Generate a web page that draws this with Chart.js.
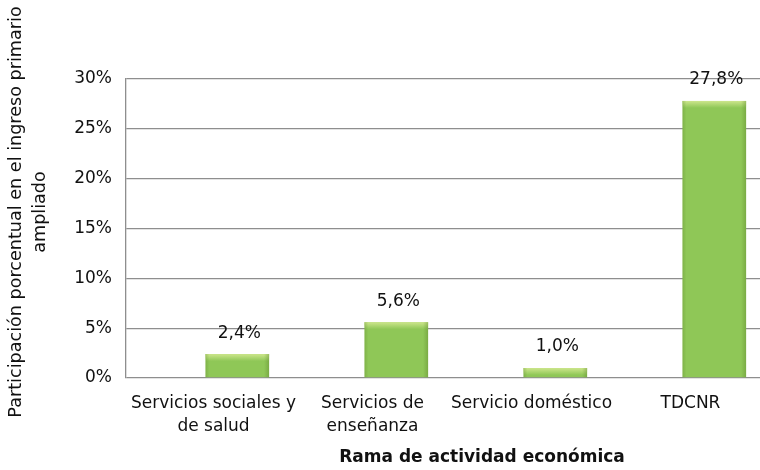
<!DOCTYPE html>
<html>
<head>
<meta charset="utf-8">
<script src="https://cdn.jsdelivr.net/npm/chart.js@4"></script>
<style>
  body { margin: 0; background: #fff; }
  #wrap { width: 760px; height: 470px; overflow: hidden; position: relative; }
  #wrap div { position: absolute; left: 0; top: 0; width: 772px; height: 470px; }
</style>
</head>
<body>
<div id="wrap"><div><canvas id="barShareChart"></canvas></div></div>
<script>
//  Participación por rama de actividad económica

const categories = [
  ["Servicios sociales y", "de salud"],
  ["Servicios de", "enseñanza"],
  "Servicio doméstico",
  "TDCNR",
];
const shareValues = [2.4, 5.6, 1.0, 27.8];
const yTickValues = [0, 5, 10, 15, 20, 25, 30];

const yTitleLines = ["Participación porcentual en el ingreso primario", "ampliado"];
const xTitle = "Rama de actividad económica";

const fontFamily = "'DejaVu Sans', sans-serif";
const gridGrey = "#8e8e8e";

function formatPercent(v) {
  return v.toFixed(1).replace(".", ",") + "%";
}

// Bevel look for the bars plus value labels on top
const barDecor = {
  id: "barDecor",
  afterDatasetsDraw(chart) {
    const ctx = chart.ctx;
    const meta = chart.getDatasetMeta(1);
    meta.data.forEach((bar, i) => {
      const left = bar.x - bar.width / 2;
      const top = bar.y;
      const h = bar.base - bar.y;
      ctx.save();
      // top light cap
      const cap = Math.min(7, h);
      const g = ctx.createLinearGradient(0, top, 0, top + cap);
      g.addColorStop(0, "rgba(205,230,140,1)");
      g.addColorStop(1, "rgba(205,230,140,0)");
      ctx.fillStyle = g;
      ctx.fillRect(left, top, bar.width, cap);
      // darker edges
      const gl = ctx.createLinearGradient(left, 0, left + bar.width, 0);
      gl.addColorStop(0, "rgba(90,130,40,0.3)");
      gl.addColorStop(0.06, "rgba(90,130,40,0)");
      gl.addColorStop(0.92, "rgba(90,130,40,0)");
      gl.addColorStop(1, "rgba(90,130,40,0.4)");
      ctx.fillStyle = gl;
      ctx.fillRect(left, top, bar.width, h);
      // value label
      ctx.fillStyle = "#111";
      ctx.font = "17px " + fontFamily;
      ctx.textAlign = "center";
      ctx.textBaseline = "middle";
      ctx.fillText(formatPercent(shareValues[i]), bar.x + 2, top - 21);
      ctx.restore();
    });
  },
};

// Axis titles placed like the original
const axisTitles = {
  id: "axisTitles",
  afterDraw(chart) {
    const ctx = chart.ctx;
    ctx.save();
    ctx.fillStyle = "#111";
    ctx.font = "17.6px " + fontFamily;
    ctx.textAlign = "center";
    ctx.textBaseline = "middle";
    ctx.translate(16, 212);
    ctx.rotate(-Math.PI / 2);
    ctx.fillText(yTitleLines[0], 0, 0);
    ctx.fillText(yTitleLines[1], 0, 24);
    ctx.restore();

    ctx.save();
    ctx.fillStyle = "#111";
    ctx.font = "bold 17px " + fontFamily;
    ctx.textAlign = "center";
    ctx.textBaseline = "middle";
    ctx.fillText(xTitle, 482, 458);
    ctx.restore();
  },
};

const ctx = document.getElementById("barShareChart").getContext("2d");

new Chart(ctx, {
  type: "bar",
  data: {
    labels: categories,
    datasets: [
      {
        label: "",
        data: categories.map(() => null),
        backgroundColor: "rgba(0,0,0,0)",
      },
      {
        label: "Participación",
        data: shareValues,
        backgroundColor: "#8fc757",
        borderWidth: 0,
      },
    ],
  },
  options: {
    responsive: true,
    maintainAspectRatio: false,
    animation: false,
    categoryPercentage: 0.8,
    barPercentage: 1.0,
    layout: { padding: { top: 79, right: 10, left: 0, bottom: 0 } },
    plugins: {
      legend: { display: false },
      tooltip: { enabled: false },
    },
    scales: {
      x: {
        grid: { display: false },
        border: { display: false },
        ticks: {
          color: "#111",
          font: { family: fontFamily, size: 17, lineHeight: "23px" },
          padding: 6,
          maxRotation: 0,
          autoSkip: false,
          labelOffset: 8,
        },
        afterFit(scale) {
          scale.height = 92;
        },
      },
      y: {
        min: 0,
        max: 30,
        afterBuildTicks(scale) {
          scale.ticks = yTickValues.map((v) => ({ value: v }));
        },
        grid: { color: gridGrey, lineWidth: 1.3, drawTicks: false },
        border: { display: true, color: gridGrey, width: 1.3 },
        ticks: {
          color: "#111",
          font: { family: fontFamily, size: 17 },
          padding: 14,
          callback: (v) => v + "%",
        },
        afterFit(scale) {
          scale.width = 126;
        },
      },
    },
  },
  plugins: [barDecor, axisTitles],
});
</script>
</body>
</html>
